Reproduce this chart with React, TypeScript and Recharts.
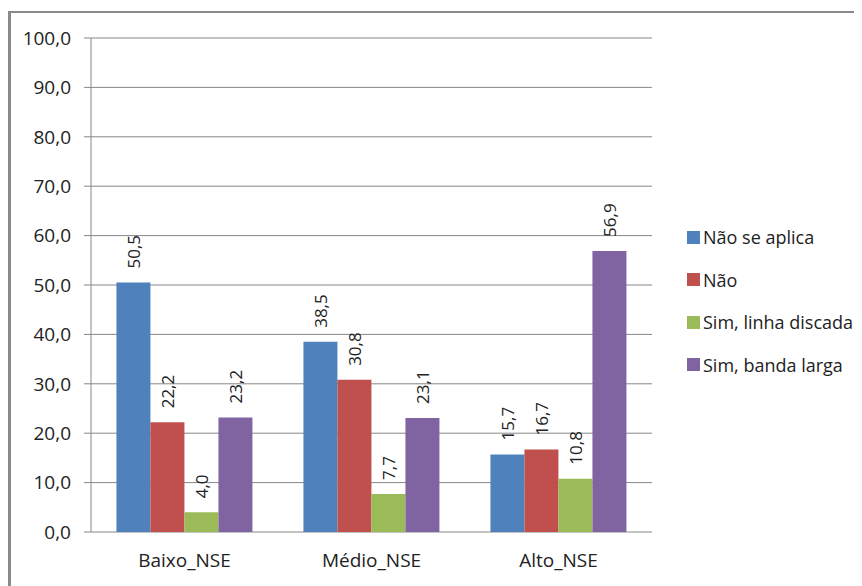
import React from 'react';
import { BarChart, Bar, XAxis, YAxis, CartesianGrid, LabelList } from 'recharts';

const categories = ['Baixo_NSE', 'Médio_NSE', 'Alto_NSE'];
const naoSeAplica = [50.5, 38.5, 15.7];
const nao = [22.2, 30.8, 16.7];
const linhaDiscada = [4.0, 7.7, 10.8];
const bandaLarga = [23.2, 23.1, 56.9];
const yTicks = [0, 10, 20, 30, 40, 50, 60, 70, 80, 90, 100];

const SERIES = [
  { key: 'naoSeAplica', label: 'Não se aplica', color: '#4F81BD', values: naoSeAplica },
  { key: 'nao', label: 'Não', color: '#C0504D', values: nao },
  { key: 'linhaDiscada', label: 'Sim, linha discada', color: '#9BBB59', values: linhaDiscada },
  { key: 'bandaLarga', label: 'Sim, banda larga', color: '#8064A2', values: bandaLarga },
];

const data = categories.map((name, i) => {
  const row: Record<string, any> = { name, idx: i };
  SERIES.forEach((s) => { row[s.key] = s.values[i]; });
  return row;
});

const FONT = "'Open Sans', sans-serif";
const GRID = '#878787';
const fmt = (v: number) => v.toFixed(1).replace('.', ',');

// value written vertically just above the bar top
const VerticalLabel = (props: any) => {
  const { x, y, width, value } = props;
  const cx = x + width / 2;
  const ty = y - 14;
  return (
    <text
      x={cx}
      y={ty}
      transform={`rotate(-90 ${cx} ${ty})`}
      textAnchor="start"
      dominantBaseline="central"
      fontSize={17}
      fontFamily={FONT}
      fill="#222"
    >
      {fmt(value)}
    </text>
  );
};

// legend sits to the right of the plot, outside the chart's layout
const LegendBox = () => (
  <div style={{ position: 'absolute', left: 679, top: 208, fontFamily: FONT, fontSize: 18, color: '#222' }}>
    {SERIES.map((s) => (
      <div key={s.key} style={{ display: 'flex', alignItems: 'center', height: 42.5 }}>
        <span style={{ width: 13, height: 13, background: s.color, marginRight: 3, flexShrink: 0 }} />
        <span style={{ whiteSpace: 'nowrap' }}>{s.label}</span>
      </div>
    ))}
  </div>
);

export default function App() {
  return (
    <div style={{ position: 'relative', width: 854, height: 578 }}>
      <div
        style={{
          position: 'absolute', left: 0, top: 3, right: 0, bottom: 0,
          borderLeft: '3px solid #8a8a8a', borderTop: '2px solid #8a8a8a',
        }}
      />
      <div style={{ position: 'absolute', left: 0, top: 0 }}>
        <BarChart
          width={854}
          height={578}
          data={data}
          margin={{ top: 30, right: 210, bottom: 24, left: 8 }}
          barCategoryGap="13.6%"
          barGap={0}
        >
          <CartesianGrid vertical={false} stroke={GRID} strokeWidth={1} />
          <XAxis
            xAxisId="edge"
            type="number"
            dataKey="idx"
            domain={[0, 3]}
            ticks={[0, 1, 2, 3]}
            height={0}
            tickSize={6}
            tickFormatter={() => ''}
            stroke={GRID}
            axisLine={{ stroke: GRID }}
            tickLine={{ stroke: GRID }}
          />
          <XAxis
            dataKey="name"
            height={30}
            axisLine={false}
            tickLine={false}
            tickSize={0}
            tickMargin={22}
            tick={{ fontSize: 19, fontFamily: FONT, fill: '#222' }}
          />
          <YAxis
            domain={[0, 100]}
            ticks={yTicks}
            width={75}
            tickFormatter={fmt}
            tickSize={7}
            tickMargin={13}
            axisLine={{ stroke: GRID }}
            tickLine={{ stroke: GRID }}
            tick={{ fontSize: 19, fontFamily: FONT, fill: '#222' }}
          />
          {SERIES.map((s) => (
            <Bar
              key={s.key}
              dataKey={s.key}
              name={s.label}
              fill={s.color}
              isAnimationActive={false}
            >
              <LabelList dataKey={s.key} content={<VerticalLabel />} />
            </Bar>
          ))}
        </BarChart>
      </div>
      <LegendBox />
    </div>
  );
}
